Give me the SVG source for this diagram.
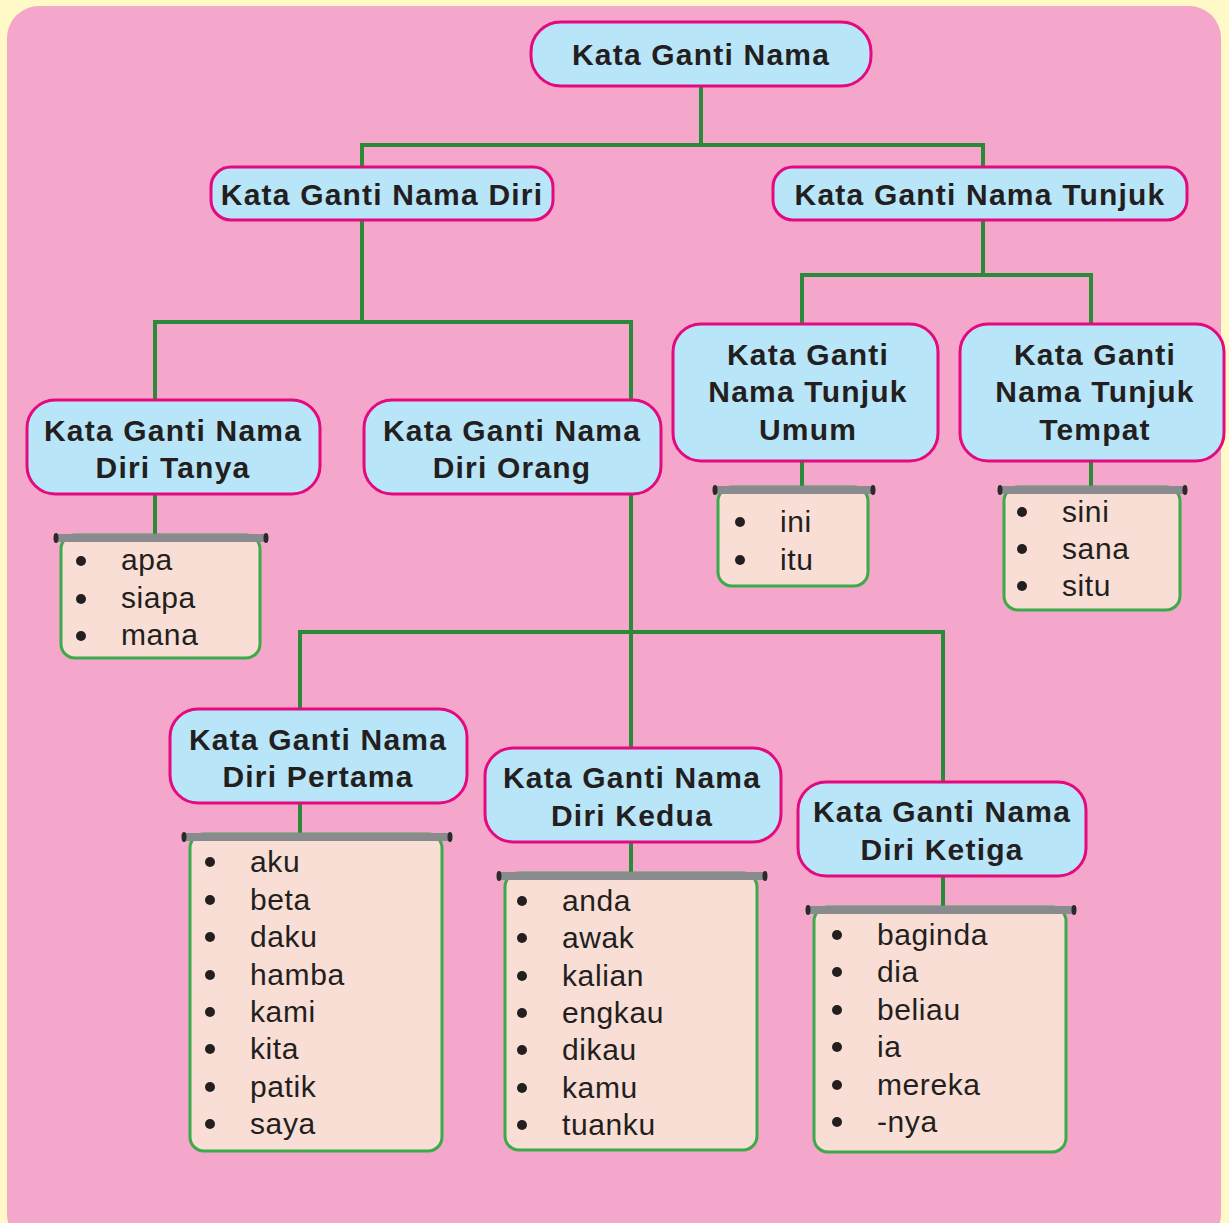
<svg xmlns="http://www.w3.org/2000/svg" width="1229" height="1223" viewBox="0 0 1229 1223">
<style>
.n rect{fill:#B9E5F9;stroke:#E5097F;stroke-width:3}
.n text{font-family:"Liberation Sans",Arial,sans-serif;font-weight:bold;font-size:30px;letter-spacing:1.2px;fill:#231F20;text-anchor:middle}
.l rect.b{fill:#F8DED4;stroke:#3DAA4A;stroke-width:3}
.l rect.bar{fill:#8A8B8E}
.l ellipse{fill:#2A2A2A}
.l text{font-family:"Liberation Sans",Arial,sans-serif;font-size:30px;letter-spacing:0.6px;fill:#231F20}
.l circle{fill:#231F20}
#connectors path{fill:none;stroke:#2A8A3A;stroke-width:4}
</style>
<rect x="0" y="0" width="1229" height="1223" fill="#FFF9C8"/>
<rect x="7" y="6" width="1214" height="1240" rx="32" fill="#F4A7CA"/>
<g id="connectors">
<path d="M701 86V145M362 145H983M362 143V168M983 143V168"/>
<path d="M362 220V322M155 322H631M155 320V401M631 320V401"/>
<path d="M983 220V275M802 275H1091M802 273V325M1091 273V325"/>
<path d="M631 493V748M300 632H943M300 630V710M943 630V782"/>
<path d="M155 494V536M802 461V488M1091 461V488M300 803V835M631 842V874M943 876V908"/>
</g>
<g id="root" class="n"><rect x="531" y="22" width="340" height="64" rx="30"/><text x="701" y="65">Kata Ganti Nama</text></g>
<g id="diri" class="n"><rect x="211" y="167" width="342" height="53" rx="20"/><text x="382" y="205">Kata Ganti Nama Diri</text></g>
<g id="tunjuk" class="n"><rect x="773" y="167" width="414" height="53" rx="20"/><text x="980" y="205">Kata Ganti Nama Tunjuk</text></g>
<g id="umum" class="n"><rect x="673" y="324" width="265" height="137" rx="28"/><text x="808" y="365">Kata Ganti</text><text x="808" y="402">Nama Tunjuk</text><text x="808" y="440">Umum</text></g>
<g id="tempat" class="n"><rect x="960" y="324" width="264" height="137" rx="28"/><text x="1095" y="365">Kata Ganti</text><text x="1095" y="402">Nama Tunjuk</text><text x="1095" y="440">Tempat</text></g>
<g id="tanya" class="n"><rect x="27" y="400" width="293" height="94" rx="28"/><text x="173" y="441">Kata Ganti Nama</text><text x="173" y="478">Diri Tanya</text></g>
<g id="orang" class="n"><rect x="364" y="400" width="297" height="94" rx="28"/><text x="512" y="441">Kata Ganti Nama</text><text x="512" y="478">Diri Orang</text></g>
<g id="pertama" class="n"><rect x="170" y="709" width="297" height="94" rx="28"/><text x="318" y="750">Kata Ganti Nama</text><text x="318" y="787">Diri Pertama</text></g>
<g id="kedua" class="n"><rect x="485" y="748" width="296" height="94" rx="28"/><text x="632" y="788">Kata Ganti Nama</text><text x="632" y="826">Diri Kedua</text></g>
<g id="ketiga" class="n"><rect x="798" y="782" width="288" height="94" rx="28"/><text x="942" y="822">Kata Ganti Nama</text><text x="942" y="860">Diri Ketiga</text></g>
<g id="list-tanya" class="l">
<rect class="b" x="61" y="535" width="199" height="123" rx="14"/>
<rect class="bar" x="55" y="534" width="212" height="8"/><ellipse cx="56" cy="538" rx="2.5" ry="5"/><ellipse cx="266" cy="538" rx="2.5" ry="5"/>
<circle cx="81" cy="561" r="5"/><circle cx="81" cy="599" r="5"/><circle cx="81" cy="636" r="5"/>
<text x="121" y="570">apa</text><text x="121" y="608">siapa</text><text x="121" y="645">mana</text>
</g>
<g id="list-umum" class="l">
<rect class="b" x="718" y="487" width="150" height="99" rx="14"/>
<rect class="bar" x="714" y="486" width="160" height="8"/><ellipse cx="715" cy="490" rx="2.5" ry="5"/><ellipse cx="873" cy="490" rx="2.5" ry="5"/>
<circle cx="740" cy="522" r="5"/><circle cx="740" cy="560" r="5"/>
<text x="780" y="532">ini</text><text x="780" y="570">itu</text>
</g>
<g id="list-tempat" class="l">
<rect class="b" x="1004" y="487" width="176" height="123" rx="14"/>
<rect class="bar" x="999" y="486" width="187" height="8"/><ellipse cx="1000" cy="490" rx="2.5" ry="5"/><ellipse cx="1185" cy="490" rx="2.5" ry="5"/>
<circle cx="1022" cy="512" r="5"/><circle cx="1022" cy="549" r="5"/><circle cx="1022" cy="586" r="5"/>
<text x="1062" y="522">sini</text><text x="1062" y="559">sana</text><text x="1062" y="596">situ</text>
</g>
<g id="list-pertama" class="l">
<rect class="b" x="190" y="834" width="252" height="317" rx="14"/>
<rect class="bar" x="183" y="833" width="268" height="8"/><ellipse cx="184" cy="837" rx="2.5" ry="5"/><ellipse cx="450" cy="837" rx="2.5" ry="5"/>
<circle cx="210" cy="862" r="5"/><circle cx="210" cy="900" r="5"/><circle cx="210" cy="937" r="5"/><circle cx="210" cy="975" r="5"/><circle cx="210" cy="1012" r="5"/><circle cx="210" cy="1049" r="5"/><circle cx="210" cy="1087" r="5"/><circle cx="210" cy="1124" r="5"/>
<text x="250" y="872">aku</text><text x="250" y="910">beta</text><text x="250" y="947">daku</text><text x="250" y="985">hamba</text><text x="250" y="1022">kami</text><text x="250" y="1059">kita</text><text x="250" y="1097">patik</text><text x="250" y="1134">saya</text>
</g>
<g id="list-kedua" class="l">
<rect class="b" x="505" y="873" width="252" height="277" rx="14"/>
<rect class="bar" x="498" y="872" width="268" height="8"/><ellipse cx="499" cy="876" rx="2.5" ry="5"/><ellipse cx="765" cy="876" rx="2.5" ry="5"/>
<circle cx="522" cy="901" r="5"/><circle cx="522" cy="938" r="5"/><circle cx="522" cy="976" r="5"/><circle cx="522" cy="1013" r="5"/><circle cx="522" cy="1050" r="5"/><circle cx="522" cy="1088" r="5"/><circle cx="522" cy="1125" r="5"/>
<text x="562" y="911">anda</text><text x="562" y="948">awak</text><text x="562" y="986">kalian</text><text x="562" y="1023">engkau</text><text x="562" y="1060">dikau</text><text x="562" y="1098">kamu</text><text x="562" y="1135">tuanku</text>
</g>
<g id="list-ketiga" class="l">
<rect class="b" x="814" y="907" width="252" height="245" rx="14"/>
<rect class="bar" x="807" y="906" width="268" height="8"/><ellipse cx="808" cy="910" rx="2.5" ry="5"/><ellipse cx="1074" cy="910" rx="2.5" ry="5"/>
<circle cx="837" cy="935" r="5"/><circle cx="837" cy="972" r="5"/><circle cx="837" cy="1010" r="5"/><circle cx="837" cy="1047" r="5"/><circle cx="837" cy="1085" r="5"/><circle cx="837" cy="1122" r="5"/>
<text x="877" y="945">baginda</text><text x="877" y="982">dia</text><text x="877" y="1020">beliau</text><text x="877" y="1057">ia</text><text x="877" y="1095">mereka</text><text x="877" y="1132">-nya</text>
</g>
</svg>
